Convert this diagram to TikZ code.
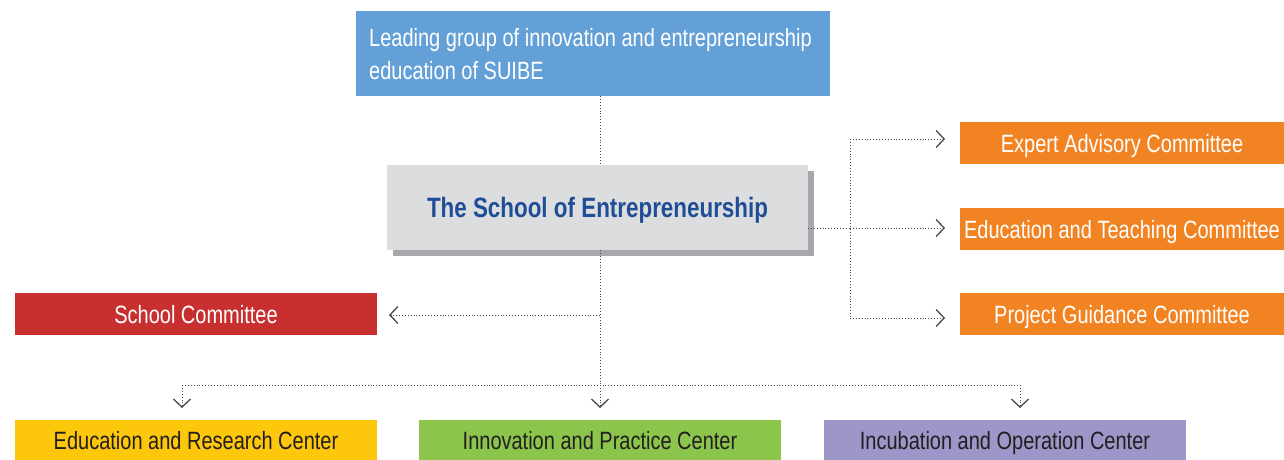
\documentclass[tikz,border=0pt]{standalone}
\usepackage{fontspec}
\setmainfont{Liberation Sans}[FakeStretch=0.80]
\usetikzlibrary{arrows.meta,shadows}

\definecolor{leadblue}{HTML}{62A0D7}
\definecolor{schoolgray}{HTML}{DCDDDF}
\definecolor{shadegray}{HTML}{A7A8AC}
\definecolor{titleblue}{HTML}{1F4E96}
\definecolor{comorange}{HTML}{F28322}
\definecolor{comred}{HTML}{C83030}
\definecolor{cenyellow}{HTML}{FDC70C}
\definecolor{cengreen}{HTML}{8BC54C}
\definecolor{cenpurple}{HTML}{9D96C9}
\definecolor{inkdark}{HTML}{231F20}
\definecolor{dotgray}{HTML}{4A4A4A}

\tikzset{
  unitbox/.style={anchor=north west, inner sep=0pt, outer sep=0pt,
    font=\fontsize{25}{30}\selectfont, text height=18pt, text depth=0pt},
  committee/.style={unitbox, fill=comorange, text=white, minimum width=324pt, minimum height=42pt},
  center/.style={unitbox, text=inkdark, minimum width=362pt, minimum height=40pt},
  conn/.style={draw=dotgray, line width=0.9pt, dash pattern=on 0.9pt off 2pt,
    -{Straight Barb[length=8pt, width=17pt, line width=1.3pt, sep=0pt]}, color=dotgray},
  plain/.style={draw=dotgray, line width=0.9pt, dash pattern=on 0.9pt off 2pt}
}

\begin{document}
\begin{tikzpicture}[x=1pt, y=-1pt]
  \useasboundingbox (0,0) rectangle (1284,460);

  % top leading group
  \node[unitbox, fill=leadblue, text=white, minimum width=474pt, minimum height=85pt] (lead) at (356,11) {};
  \node[anchor=north west, inner sep=0pt, text=white, align=left,
        font=\fontsize{25}{33}\selectfont] (leadtext) at (369,28)
        {Leading group of innovation and entrepreneurship\\education of SUIBE};

  % the school
  \node[unitbox, fill=schoolgray, minimum width=421pt, minimum height=85pt,
        drop shadow={shadow xshift=6pt, shadow yshift=-6pt, fill=shadegray, opacity=1},
        text=titleblue, font=\fontsize{28}{32}\bfseries\selectfont, text height=19pt] (school) at (387,165)
        {The School of Entrepreneurship};

  % committees on the right
  \node[committee] (expert)  at (960,122) {Expert Advisory Committee};
  \node[committee] (teach)   at (960,208) {Education and Teaching Committee};
  \node[committee] (project) at (960,293) {Project Guidance Committee};

  % school committee
  \node[unitbox, fill=comred, text=white, minimum width=362pt, minimum height=42pt] (schcom) at (15,293) {School Committee};

  % centers at the bottom
  \node[center, fill=cenyellow] (edu)   at (15,420)  {Education and Research Center};
  \node[center, fill=cengreen]  (innov) at (419,420) {Innovation and Practice Center};
  \node[center, fill=cenpurple] (incub) at (824,420) {Incubation and Operation Center};

  % junction points
  \coordinate (trunk) at (600,0);
  \coordinate (rjoin) at (850,228);
  \coordinate (lrow)  at (600,315);
  \coordinate (brow)  at (600,385);
  \coordinate (lcol)  at (182,0);
  \coordinate (rcol)  at (1020,0);
  \coordinate (expin) at ([yshift=4pt]expert.west);
  \coordinate (prjin) at ([yshift=-4pt]project.west);

  % vertical trunk
  \draw[plain] (lead.south -| trunk) -- (school.north -| trunk);
  \draw[plain] (school.south -| trunk) -- (brow);

  % right branch
  \draw[plain] (rjoin -| school.east) -- (rjoin);
  \draw[plain] (rjoin |- expin) -- (rjoin |- prjin);
  \draw[conn, shorten >=15pt] (rjoin |- expin) -- (expin);
  \draw[conn, shorten >=15pt] (rjoin) -- (rjoin -| teach.west);
  \draw[conn, shorten >=15pt] (rjoin |- prjin) -- (prjin);

  % left branch
  \draw[conn, shorten >=12pt] (lrow) -- (lrow -| schcom.east);

  % bottom row
  \draw[plain] (brow -| lcol) -- (brow -| rcol);
  \draw[conn, shorten >=12pt] (brow -| lcol) -- (edu.north -| lcol);
  \draw[conn, shorten >=12pt] (brow) -- (innov.north -| brow);
  \draw[conn, shorten >=12pt] (brow -| rcol) -- (incub.north -| rcol);
\end{tikzpicture}
\end{document}
